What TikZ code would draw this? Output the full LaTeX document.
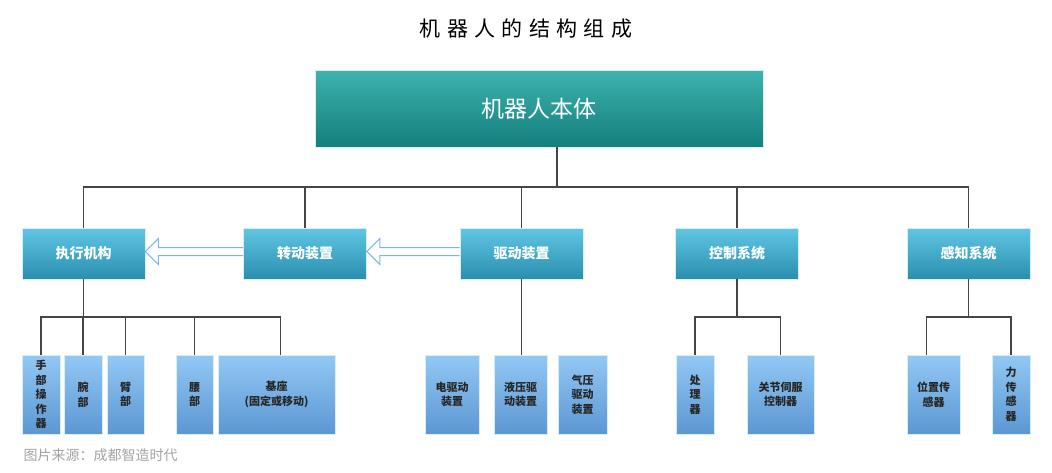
\documentclass[tikz,border=0pt]{standalone}
\usepackage{fontspec}
\setmainfont{Noto Sans CJK SC}
\newfontfamily\titlefont[LetterSpace=30]{Noto Sans CJK SC}
\usepackage{xcolor}
\usepackage{tikz}
\usetikzlibrary{calc,positioning}
\definecolor{bodytop}{HTML}{3DB3AE}
\definecolor{bodybot}{HTML}{147F7D}
\definecolor{midtop}{HTML}{5FC6E3}
\definecolor{midbot}{HTML}{2A8FAF}
\definecolor{leaftop}{HTML}{92C8F4}
\definecolor{leafbot}{HTML}{5C97D3}
\definecolor{edge}{HTML}{D8EEF8}
\definecolor{line}{HTML}{454545}
\definecolor{arrowc}{HTML}{79B6F3}
\definecolor{muted}{HTML}{A3A3A3}
\definecolor{ink}{HTML}{262626}
\tikzset{
  conn/.style={draw=line, line width=1.4pt},
  body/.style={draw=edge, line width=0.6pt, top color=bodytop, bottom color=bodybot,
    minimum width=448, minimum height=77, text=white, font=\fontsize{23}{23}\selectfont},
  mid/.style={draw=edge, line width=0.6pt, top color=midtop, bottom color=midbot,
    minimum width=123, minimum height=51, text=white, font=\bfseries\fontsize{14}{14}\selectfont},
  leaf/.style={draw=edge, line width=0.6pt, top color=leaftop, bottom color=leafbot,
    minimum height=79, inner sep=0pt, align=center, text=ink,
    font=\bfseries\fontsize{11}{14.5}\selectfont},
  harrow/.style={draw=arrowc, fill=white, line width=1pt, line join=miter},
  lab/.style={text=muted, font=\fontsize{14}{14}\selectfont},
}
\begin{document}
\begin{tikzpicture}[x=1pt, y=-1pt]
\useasboundingbox (0,0) rectangle (1052,472);
\node[font=\titlefont\fontsize{21}{21}\selectfont] (title) at (526,29) {机器人的结构组成};
\node[body] (bt) at (539,108.5) {机器人本体};

% second level
\node[mid] (zx) at (83.5,253.5) {执行机构};
\node[mid] (zd) at (305,253.5) {转动装置};
\node[mid] (qd) at (521.5,253.5) {驱动装置};
\node[mid] (kz) at (737,253.5) {控制系统};
\node[mid] (gz) at (968.5,253.5) {感知系统};

% leaves
\node[leaf, minimum width=38] (sb) at (41,394.5) {手\\部\\操\\作\\器};
\node[leaf, minimum width=38] (wb) at (83,394.5) {腕\\部};
\node[leaf, minimum width=37] (bb) at (125.5,394.5) {臂\\部};
\node[leaf, minimum width=37] (yb) at (194.5,394.5) {腰\\部};
\node[leaf, minimum width=117] (jz) at (276.5,394.5) {基座\\(固定或移动)};
\node[leaf, minimum width=54] (dq) at (452,394.5) {电驱动\\装置};
\node[leaf, minimum width=53] (yy) at (520.5,394.5) {液压驱\\动装置};
\node[leaf, minimum width=49] (qy) at (582.5,394.5) {气压\\驱动\\装置};
\node[leaf, minimum width=38] (cl) at (695,394.5) {处\\理\\器};
\node[leaf, minimum width=67] (gj) at (780.5,394.5) {关节伺服\\控制器};
\node[leaf, minimum width=53] (wz) at (933.5,394.5) {位置传\\感器};
\node[leaf, minimum width=38] (lc) at (1011,394.5) {力\\传\\感\\器};

\node[lab, anchor=west] (src) at (20,455) {图片来源：成都智造时代};

% top bus
\coordinate (bus) at (0,187);
\draw[conn] (zx.north) -- (zx.north |- bus) -- (gz.north |- bus) -- (gz.north);
\draw[conn] (bt.south) ++(18,0) coordinate (bts) -- (bts |- bus);
\foreach \n in {zd,qd,kz}
  \draw[conn] (\n.north) -- (\n.north |- bus);

% lower buses
\coordinate (sub) at (0,317);
\draw[conn] (zx.south) -- (zx.south |- sub);
\draw[conn] (sb.north) -- (sb.north |- sub) -- ($(jz.north |- sub)+(4,0)$) -- ($(jz.north)+(4,0)$);
\foreach \n in {wb,bb,yb}
  \draw[conn] (\n.north) -- (\n.north |- sub);
\draw[conn] (qd.south) -- (qd.south |- yy.north);
\draw[conn] (kz.south) -- (kz.south |- sub);
\draw[conn] (cl.north) -- (cl.north |- sub) -- (gj.north |- sub) -- (gj.north);
\draw[conn] (gz.south) -- (gz.south |- sub);
\draw[conn] ($(wz.north)+(-7,0)$) -- ($(wz.north |- sub)+(-7,0)$) -- (lc.north |- sub) -- (lc.north);

% hollow arrows
\draw[harrow] ($(zd.west)+(0,-6)$) -- ($(zx.east)+(13,-6)$) -- ($(zx.east)+(13,-15)$)
  -- ($(zx.east)+(0,-2)$) -- ($(zx.east)+(13,11)$) -- ($(zx.east)+(13,2)$) -- ($(zd.west)+(0,2)$);
\draw[harrow] ($(qd.west)+(0,-6)$) -- ($(zd.east)+(13,-6)$) -- ($(zd.east)+(13,-15)$)
  -- ($(zd.east)+(0,-2)$) -- ($(zd.east)+(13,11)$) -- ($(zd.east)+(13,2)$) -- ($(qd.west)+(0,2)$);
\end{tikzpicture}
\end{document}
